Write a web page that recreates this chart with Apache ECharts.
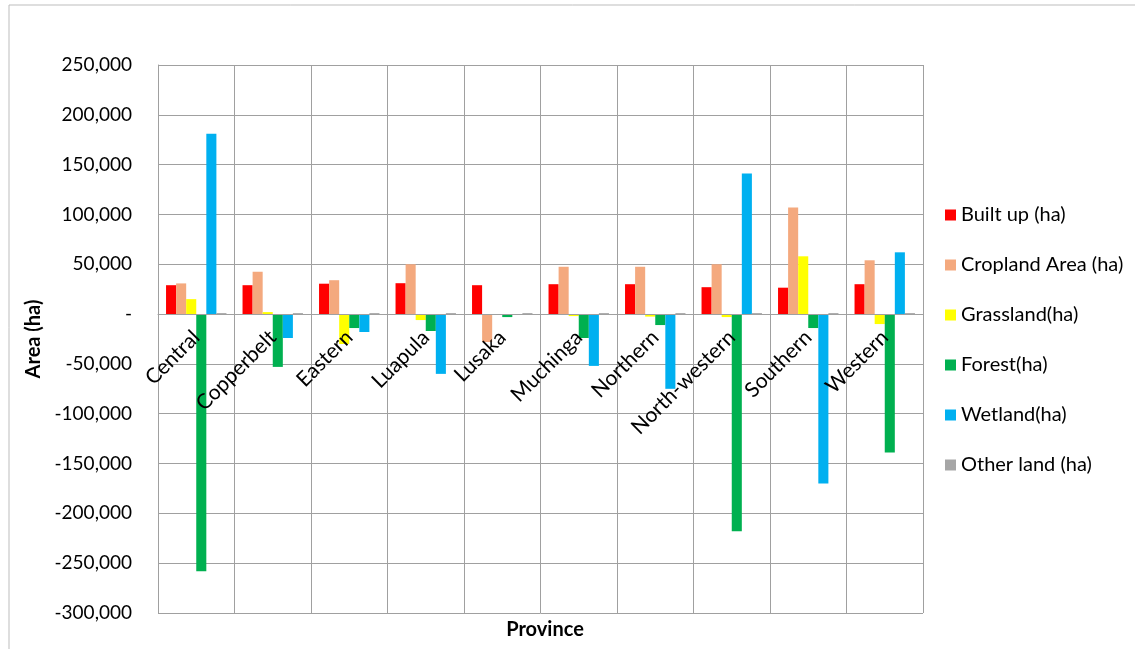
<!DOCTYPE html>
<html><head><meta charset="utf-8">
<script src="https://cdn.jsdelivr.net/npm/echarts@6/dist/echarts.min.js"></script>
<style>html,body{margin:0;padding:0;background:#fff}#c{width:1135px;height:649px}</style>
</head><body><div id="c"></div>
<script>
const provinces = ['Central','Copperbelt','Eastern','Luapula','Lusaka','Muchinga','Northern','North-western','Southern','Western'];
const builtUp   = [29000, 29000, 30500, 31000, 29000, 30000, 30000, 27000, 26500, 30000];
const cropland  = [30800, 42500, 34000, 50000, -28000, 47500, 47500, 50000, 107000, 54000];
const grassland = [15000, 2000, -30000, -6000, 0, -2000, -2500, -3000, 58000, -10000];
const forest    = [-258000, -53000, -14000, -17000, -3000, -24000, -11000, -218000, -14000, -139000];
const wetland   = [181000, -24000, -18000, -60000, 0, -52000, -75000, 141000, -170000, 62000];
const otherLand = [1000, 1000, 1000, 1000, 1000, 1000, 1000, 1000, 1000, 1000];
const seriesNames = ['Built up (ha)','Cropland Area (ha)','Grassland(ha)','Forest(ha)','Wetland(ha)','Other land (ha)'];
const seriesColors = ['#ff0000','#f4a97e','#ffff00','#00b050','#00b0f0','#a6a6a6'];
const seriesData = [builtUp, cropland, grassland, forest, wetland, otherLand];

const font = 'Lato, "Open Sans", sans-serif';
const chart = echarts.init(document.getElementById('c'));
chart.setOption({
  animation: false,
  textStyle: {fontFamily: font},
  graphic: [{type:'rect', shape:{x:9, y:5, width:1200, height:700}, style:{fill:'none', stroke:'#bdbdbd', lineWidth:1}}],
  title: {text:'Province', left: 540, top: 615, textAlign:'center',
    textStyle:{fontFamily:font, fontSize:20, fontWeight:'bold', color:'#000'}},
  legend: {
    orient:'vertical', left: 940, top: 200, itemWidth: 11, itemHeight: 11, itemGap: 30,
    icon: 'rect', data: seriesNames,
    textStyle: {fontFamily:font, fontSize:20, lineHeight:20, color:'#000'}
  },
  grid: {left:158, right:212, top:65, bottom:36, containLabel:false, outerBoundsMode:'none'},
  xAxis: {
    type:'category', data: provinces, offset: -299, z: 10,
    axisLine: {onZero:false, lineStyle:{color:'#a0a0a0'}},
    axisTick: {show:false},
    splitLine: {show:true, lineStyle:{color:'#a0a0a0'}},
    axisLabel: {rotate:45, interval:0, margin:20, fontFamily:font, fontSize:21, color:'#000', hideOverlap:false}
  },
  yAxis: {
    type:'value', min:-300000, max:250000, interval:50000,
    name:'Area (ha)', nameLocation:'middle', nameGap:112, nameRotate:90,
    nameTextStyle:{fontFamily:font, fontSize:20, fontWeight:'bold', color:'#000'},
    axisLine:{show:true, lineStyle:{color:'#a0a0a0'}},
    axisTick:{show:false},
    splitLine:{lineStyle:{color:'#a0a0a0'}},
    axisLabel:{fontFamily:font, fontSize:19, color:'#000', margin:26,
      formatter: v => v === 0 ? '-' : v.toLocaleString('en-US')}
  },
  series: seriesData.map((d,i) => ({
    name: seriesNames[i], type:'bar', data:d,
    itemStyle:{color:seriesColors[i]},
    barGap:'0%', barCategoryGap:'21%'
  }))
});
</script></body></html>
